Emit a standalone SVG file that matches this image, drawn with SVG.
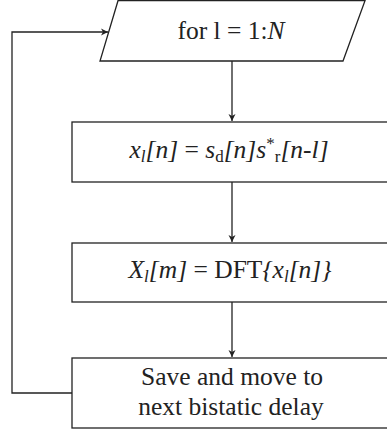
<svg xmlns="http://www.w3.org/2000/svg" width="387" height="432" viewBox="0 0 387 432">
<style>
.shape{fill:#fff;stroke:#222;stroke-width:1.3}
.edge{fill:none;stroke:#222;stroke-width:1.3}
text{font-family:"Liberation Serif","DejaVu Serif",serif;font-size:25.5px;fill:#222;text-anchor:middle}
.i{font-style:italic}
.s{font-size:17px}
</style>
<defs>
<marker id="arr" viewBox="-8 -5 10 10" refX="0" refY="0" markerWidth="10" markerHeight="10" markerUnits="userSpaceOnUse" orient="auto">
<path d="M-7,-3.5 L0,0 L-7,3.5 L-5,0 Z" fill="#222"/>
</marker>
</defs>
<g id="connectors">
<line class="edge" x1="232" y1="61" x2="232" y2="121" marker-end="url(#arr)"/>
<line class="edge" x1="232" y1="182" x2="232" y2="242" marker-end="url(#arr)"/>
<line class="edge" x1="232" y1="302" x2="232" y2="357" marker-end="url(#arr)"/>
<polyline class="edge" points="72,393 12,393 12,32 108,32" marker-end="url(#arr)"/>
</g>
<g id="loop">
<polygon class="shape" points="118,0.7 365,0.7 343,61 100,61"/>
<text x="231" y="39">for l = 1:<tspan class="i">N</tspan></text>
</g>
<g id="correlate">
<rect class="shape" x="72" y="122" width="330" height="60"/>
<text x="229" y="158"><tspan class="i">x</tspan><tspan class="i s" dy="4">l</tspan><tspan class="i" dy="-4">[n]</tspan> = <tspan class="i">s</tspan><tspan class="s" dy="4">d</tspan><tspan class="i" dy="-4">[n]s</tspan><tspan class="s" dy="-9">*</tspan><tspan class="s" dy="13">r</tspan><tspan class="i" dy="-4">[n-l]</tspan></text>
</g>
<g id="dft">
<rect class="shape" x="72" y="243" width="330" height="59"/>
<text x="230" y="278"><tspan class="i">X</tspan><tspan class="i s" dy="4">l</tspan><tspan class="i" dy="-4">[m]</tspan> = DFT<tspan class="i">{x</tspan><tspan class="i s" dy="4">l</tspan><tspan class="i" dy="-4">[n]}</tspan></text>
</g>
<g id="save">
<rect class="shape" x="72" y="358" width="330" height="70"/>
<text x="232" y="385">Save and move to</text>
<text x="231" y="415">next bistatic delay</text>
</g>
</svg>
